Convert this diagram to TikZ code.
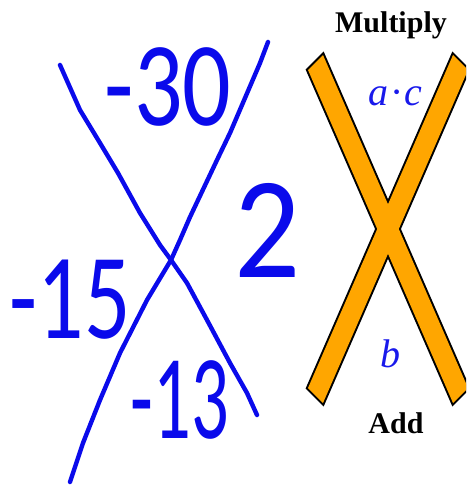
\documentclass[tikz,border=0pt]{standalone}
\usepackage{fontspec}
\setmainfont{Liberation Serif}
\newfontfamily\hand{Carlito}
\definecolor{pen}{RGB}{10,10,235}
\definecolor{bar}{RGB}{255,166,0}
\definecolor{lab}{RGB}{25,25,235}
\tikzset{
  penline/.style={pen, line width=4.4pt, line cap=round, line join=round},
  digits/.style={pen, inner sep=0pt},
  barshape/.style={fill=bar},
  barline/.style={draw=black, line width=4pt, line join=miter},
  title/.style={inner sep=0pt, anchor=base, font=\fontsize{30}{30}\selectfont\bfseries},
  mathlab/.style={lab, inner sep=0pt, anchor=base, font=\fontsize{40}{40}\selectfont\itshape}
}
\begin{document}
\begin{tikzpicture}[x=1pt,y=-1pt]
\useasboundingbox (0,0) rectangle (466,487);
\begin{scope}
\clip (0,0) rectangle (466,487);
% orange X
\coordinate (a1) at (308,70); \coordinate (a2) at (323,55);
\coordinate (a3) at (468,388); \coordinate (a4) at (453,403);
\coordinate (b1) at (453,55); \coordinate (b2) at (468,70);
\coordinate (b3) at (323,403); \coordinate (b4) at (308,388);
\path[barline] (a1) -- (a2) -- (a3) -- (a4) -- cycle;
\path[barline] (b1) -- (b2) -- (b3) -- (b4) -- cycle;
\path[barshape] (a1) -- (a2) -- (a3) -- (a4) -- cycle;
\path[barshape] (b1) -- (b2) -- (b3) -- (b4) -- cycle;
\end{scope}
% labels
\node[title] (mul) at (391,33) {Multiply};
\node[title] (add) at (396,433) {Add};
\node[mathlab] (ac) at (395,105) {a\kern3pt·\kern3pt c};
\node[mathlab] (bb) at (390,367) {b};
% handwritten X
\draw[penline] (60,65) -- (80,110) -- (100,143) -- (118,173) -- (140,213) -- (160,245) -- (171,260) -- (187,283) -- (207,320) -- (230,363) -- (247,393) -- (257,415);
\draw[penline] (268,42) -- (260,63) -- (230,133) -- (217,160) -- (190,217) -- (180,240) -- (171,260) -- (147,300) -- (120,353) -- (100,400) -- (83,443) -- (70,482);
% numbers
\node[digits, font=\hand\fontsize{120}{120}\selectfont, xscale=0.8] (n30) at (168,87) {-30};
\node[digits, font=\hand\fontsize{145}{145}\selectfont, xscale=0.9] (n2) at (268,230) {2};
\node[digits, font=\hand\fontsize{122}{122}\selectfont, xscale=0.75] (n15) at (70,300) {-15};
\node[digits, font=\hand\fontsize{120}{120}\selectfont, xscale=0.62] (n13) at (180,400) {-13};
\end{tikzpicture}
\end{document}
